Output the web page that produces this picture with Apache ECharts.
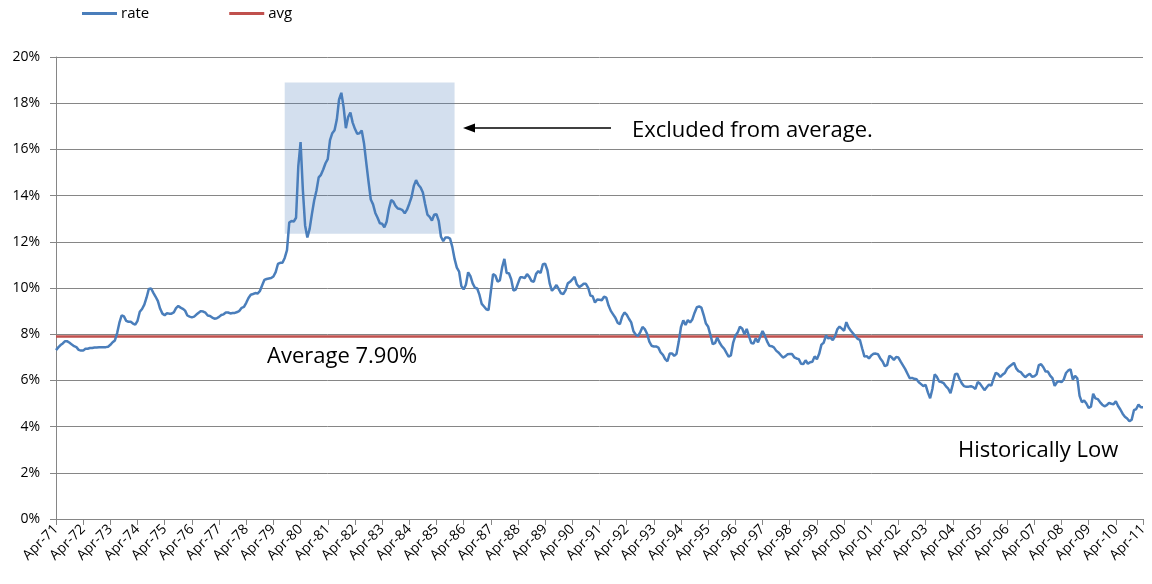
<!DOCTYPE html>
<html>
<head>
<meta charset="utf-8">
<script src="https://cdn.jsdelivr.net/npm/echarts@6/dist/echarts.min.js"></script>
<style>html,body{margin:0;padding:0;background:#fff}#c{width:1152px;height:584px}</style>
</head>
<body>
<div id="c"></div>
<script>
// Monthly 30-year rate (%), Apr-1971 .. Apr-2011
const r1971 = [7.31,7.43,7.53,7.60,7.70,7.69,7.63,7.55,7.48];
const r1972 = [7.44,7.32,7.29,7.29,7.37,7.37,7.40,7.40,7.42,7.42,7.43,7.44];
const r1973 = [7.44,7.44,7.46,7.54,7.65,7.73,8.05,8.50,8.82,8.77,8.58,8.54];
const r1974 = [8.54,8.46,8.41,8.58,8.97,9.09,9.28,9.59,9.96,9.98,9.79,9.62];
const r1975 = [9.43,9.10,8.89,8.82,8.91,8.89,8.89,8.94,9.13,9.22,9.15,9.10];
const r1976 = [9.02,8.81,8.76,8.73,8.76,8.85,8.93,9.00,8.98,8.93,8.81,8.79];
const r1977 = [8.72,8.67,8.69,8.75,8.83,8.86,8.94,8.94,8.90,8.92,8.92,8.96];
const r1978 = [9.01,9.14,9.18,9.36,9.57,9.71,9.74,9.78,9.76,9.86,10.11,10.35];
const r1979 = [10.39,10.41,10.43,10.50,10.69,11.04,11.09,11.09,11.30,11.64,12.83,12.90];
const r1980 = [12.88,13.04,15.28,16.32,14.26,12.71,12.19,12.56,13.20,13.79,14.21,14.79];
const r1981 = [14.90,15.13,15.40,15.58,16.40,16.70,16.83,17.29,18.16,18.45,17.83,16.92];
const r1982 = [17.40,17.60,17.16,16.89,16.68,16.70,16.82,16.27,15.43,14.61,13.83,13.62];
const r1983 = [13.25,13.04,12.80,12.78,12.63,12.87,13.42,13.81,13.73,13.54,13.44,13.42];
const r1984 = [13.37,13.23,13.39,13.65,13.94,14.42,14.67,14.47,14.35,14.13,13.64,13.18];
const r1985 = [13.08,12.92,13.17,13.20,12.91,12.22,12.03,12.19,12.19,12.14,11.78,11.26];
const r1986 = [10.88,10.71,10.08,9.94,10.14,10.68,10.51,10.20,10.01,9.98,9.70,9.31];
const r1987 = [9.20,9.08,9.04,9.83,10.60,10.54,10.28,10.33,10.89,11.26,10.65,10.64];
const r1988 = [10.38,9.89,9.93,10.20,10.46,10.46,10.43,10.60,10.48,10.30,10.27,10.61];
const r1989 = [10.73,10.65,11.03,11.05,10.77,10.20,9.88,9.99,10.13,9.95,9.77,9.74];
const r1990 = [9.90,10.20,10.27,10.37,10.48,10.16,10.04,10.10,10.18,10.18,10.01,9.67];
const r1991 = [9.64,9.37,9.50,9.49,9.47,9.62,9.58,9.24,9.01,8.86,8.71,8.50];
const r1992 = [8.43,8.76,8.94,8.85,8.67,8.51,8.13,7.98,7.92,8.09,8.31,8.22];
const r1993 = [8.02,7.68,7.50,7.47,7.47,7.42,7.21,7.11,6.92,6.83,7.16,7.17];
const r1994 = [7.06,7.15,7.68,8.32,8.60,8.40,8.61,8.51,8.64,8.93,9.17,9.20];
const r1995 = [9.15,8.83,8.46,8.32,7.96,7.57,7.61,7.86,7.64,7.48,7.38,7.20];
const r1996 = [7.03,7.08,7.62,7.93,8.07,8.32,8.25,8.00,8.23,7.92,7.62,7.60];
const r1997 = [7.82,7.65,7.90,8.14,7.94,7.69,7.50,7.48,7.43,7.29,7.21,7.10];
const r1998 = [6.99,7.04,7.13,7.14,7.14,7.00,6.95,6.92,6.72,6.71,6.87,6.72];
const r1999 = [6.79,6.81,7.04,6.92,7.15,7.55,7.63,7.94,7.82,7.85,7.74,7.91];
const r2000 = [8.21,8.33,8.24,8.15,8.52,8.29,8.15,8.03,7.91,7.80,7.75,7.38];
const r2001 = [7.03,7.05,6.95,7.08,7.15,7.16,7.13,6.95,6.82,6.62,6.66,7.07];
const r2002 = [7.00,6.89,7.01,6.99,6.81,6.65,6.49,6.29,6.09,6.11,6.07,6.05];
const r2003 = [5.92,5.84,5.75,5.81,5.48,5.23,5.63,6.26,6.15,5.95,5.93,5.88];
const r2004 = [5.74,5.64,5.45,5.83,6.27,6.29,6.06,5.87,5.75,5.72,5.73,5.75];
const r2005 = [5.71,5.63,5.93,5.86,5.72,5.58,5.70,5.82,5.77,6.07,6.33,6.27];
const r2006 = [6.15,6.25,6.32,6.51,6.60,6.68,6.76,6.52,6.40,6.36,6.24,6.14];
const r2007 = [6.22,6.29,6.16,6.18,6.26,6.66,6.70,6.57,6.38,6.38,6.21,6.10];
const r2008 = [5.76,5.92,5.97,5.92,6.04,6.32,6.43,6.48,6.04,6.20,6.09,5.33];
const r2009 = [5.06,5.13,5.00,4.81,4.86,5.42,5.22,5.19,5.06,4.95,4.88,4.93];
const r2010 = [5.03,4.99,4.97,5.10,4.89,4.74,4.56,4.43,4.35,4.23,4.30,4.71];
const r2011 = [4.76,4.95,4.84,4.84];

const AVG = 7.90;
const startYear = 1971, startMonth = 3; // April
const monthNames = ['Jan','Feb','Mar','Apr','May','Jun','Jul','Aug','Sep','Oct','Nov','Dec'];
const yTicks = {min: 0, max: 20, interval: 2};

const rate = [].concat(r1971,r1972,r1973,r1974,r1975,r1976,r1977,r1978,r1979,r1980,
  r1981,r1982,r1983,r1984,r1985,r1986,r1987,r1988,r1989,r1990,r1991,r1992,r1993,r1994,
  r1995,r1996,r1997,r1998,r1999,r2000,r2001,r2002,r2003,r2004,r2005,r2006,r2007,r2008,
  r2009,r2010,r2011);
const categories = rate.map((v,i) => {
  const m = startMonth + i;
  const y = startYear + Math.floor(m/12);
  return monthNames[m%12] + '-' + String(y%100).padStart(2,'0');
});
const avg = rate.map(() => AVG);

const excluded = {from: 'Sep-79', to: 'Dec-85', top: 18.9, bottom: 12.35};

const FONT = '"Open Sans", Carlito, Lato, sans-serif';
const GRID = '#868686';

const chart = echarts.init(document.getElementById('c'), null, {renderer: 'canvas'});
chart.setOption({
  animation: false,
  textStyle: {fontFamily: FONT},
  legend: {
    left: 82, top: 6, padding: 0,
    icon: 'rect', itemWidth: 35, itemHeight: 3, itemGap: 80,
    textStyle: {fontSize: 15, color: '#000', fontFamily: FONT, padding: [0,0,0,-1]},
    data: ['rate','avg']
  },
  grid: {left: 56, right: 9, top: 57, bottom: 65, containLabel: false},
  xAxis: {
    type: 'category', data: categories, boundaryGap: false,
    axisLine: {lineStyle: {color: GRID, width: 1}},
    axisTick: {interval: 11, length: 6, lineStyle: {color: GRID}},
    axisLabel: {interval: 11, rotate: 45, fontSize: 14, color: '#000', margin: 8, fontFamily: FONT},
    splitLine: {show: false}
  },
  yAxis: {
    type: 'value', min: yTicks.min, max: yTicks.max, interval: yTicks.interval,
    axisLine: {show: true, lineStyle: {color: GRID, width: 1}},
    axisTick: {show: true, length: 6, lineStyle: {color: GRID}},
    axisLabel: {formatter: '{value}%', fontSize: 14, color: '#000', margin: 16, fontFamily: FONT},
    splitLine: {lineStyle: {color: GRID, width: 1}}
  },
  series: [
    {
      name: 'rate', type: 'line', data: rate, showSymbol: false, symbol: 'none',
      lineStyle: {color: '#4A7EBB', width: 2.5}, itemStyle: {color: '#4A7EBB'},
      z: 3,
      markArea: {
        silent: true,
        itemStyle: {color: 'rgba(79,129,189,0.25)'},
        data: [[{xAxis: excluded.from, yAxis: excluded.top}, {xAxis: excluded.to, yAxis: excluded.bottom}]]
      }
    },
    {
      name: 'avg', type: 'line', data: avg, showSymbol: false, symbol: 'none',
      lineStyle: {color: '#C0504D', width: 2.5}, itemStyle: {color: '#C0504D'}, z: 2
    }
  ],
  graphic: [
    {type: 'line', shape: {x1: 611, y1: 128, x2: 470, y2: 128}, style: {stroke: '#000', lineWidth: 1.5}},
    {type: 'polygon', shape: {points: [[463,128],[475,123.5],[475,132.5]]}, style: {fill: '#000'}},
    {type: 'text', left: 632, top: 120, style: {text: 'Excluded from average.', font: '22px ' + FONT, fill: '#000'}},
    {type: 'text', left: 267, top: 346, style: {text: 'Average 7.90%', font: '22px ' + FONT, fill: '#000'}},
    {type: 'text', left: 958, top: 440, style: {text: 'Historically Low', font: '22px ' + FONT, fill: '#000'}}
  ]
});
</script>
</body>
</html>
